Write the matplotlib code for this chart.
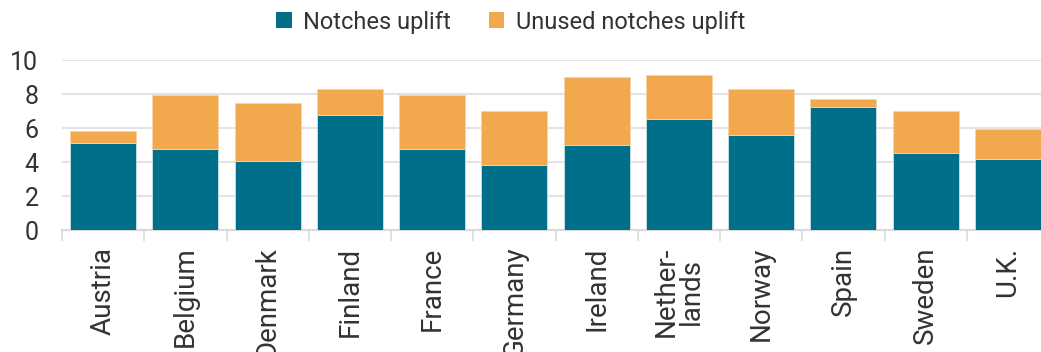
import matplotlib
matplotlib.use("Agg")
import matplotlib.pyplot as plt
from matplotlib.patches import Patch
import numpy as np

countries = ["Austria", "Belgium", "Denmark", "Finland", "France", "Germany",
             "Ireland", "Nether-\nlands", "Norway", "Spain", "Sweden", "U.K."]
notches_uplift = [5.12, 4.78, 4.08, 6.76, 4.78, 3.82, 5.02, 6.53, 5.59, 7.24, 4.53, 4.20]
unused_uplift = [0.72, 3.16, 3.41, 1.53, 3.16, 3.18, 3.96, 2.59, 2.70, 0.47, 2.47, 1.74]
y_ticks = [0, 2, 4, 6, 8, 10]

teal = "#00708A"
orange = "#F2A84C"
text_color = "#333333"

plt.rcParams["font.family"] = ["Roboto", "DejaVu Sans"]

fig = plt.figure(figsize=(10.41, 3.52), dpi=100)
ax = fig.add_axes([62 / 1041, 122 / 352, (1049 - 62) / 1041, (292 - 122) / 352])

x = np.arange(len(countries))
ax.bar(x, notches_uplift, width=0.8, color=teal, edgecolor="#cfe0e6",
       linewidth=0.6, zorder=3)
ax.bar(x, unused_uplift, width=0.8, bottom=notches_uplift, color=orange,
       edgecolor="#f7d3a6", linewidth=0.6, zorder=3)

ax.set_xlim(-0.5, len(countries) - 0.5)
ax.set_ylim(0, 10)
ax.set_yticks(y_ticks)
ax.set_yticklabels([str(v) for v in y_ticks], fontsize=18, color=text_color)
ax.tick_params(axis="y", length=0, pad=17)

ax.set_xticks(x)
ax.set_xticklabels(countries, rotation=90, fontsize=20, color=text_color,
                   va="top", ha="center", multialignment="center",
                   linespacing=0.95)
ax.set_xticks(np.arange(len(countries) + 1) - 0.5, minor=True)
ax.tick_params(axis="x", which="major", length=0, pad=12)
ax.tick_params(axis="x", which="minor", length=8, color="#d9d9d9", width=1.2)

ax.grid(axis="y", color="#e3e3e3", linewidth=1.5, zorder=0)
for side in ["top", "right", "left"]:
    ax.spines[side].set_visible(False)
ax.spines["bottom"].set_color("#d9d9d9")
ax.spines["bottom"].set_linewidth(1.5)

handles = [Patch(facecolor=teal, label="Notches uplift"),
           Patch(facecolor=orange, label="Unused notches uplift")]
fig.legend(handles=handles, loc="center", bbox_to_anchor=(511 / 1041, 1 - 22 / 352),
           ncol=2, frameon=False, handlelength=0.65, handleheight=0.65,
           handletextpad=0.5, columnspacing=1.6, labelcolor=text_color,
           prop={"size": 17})

fig.savefig("out.png", dpi=100)
